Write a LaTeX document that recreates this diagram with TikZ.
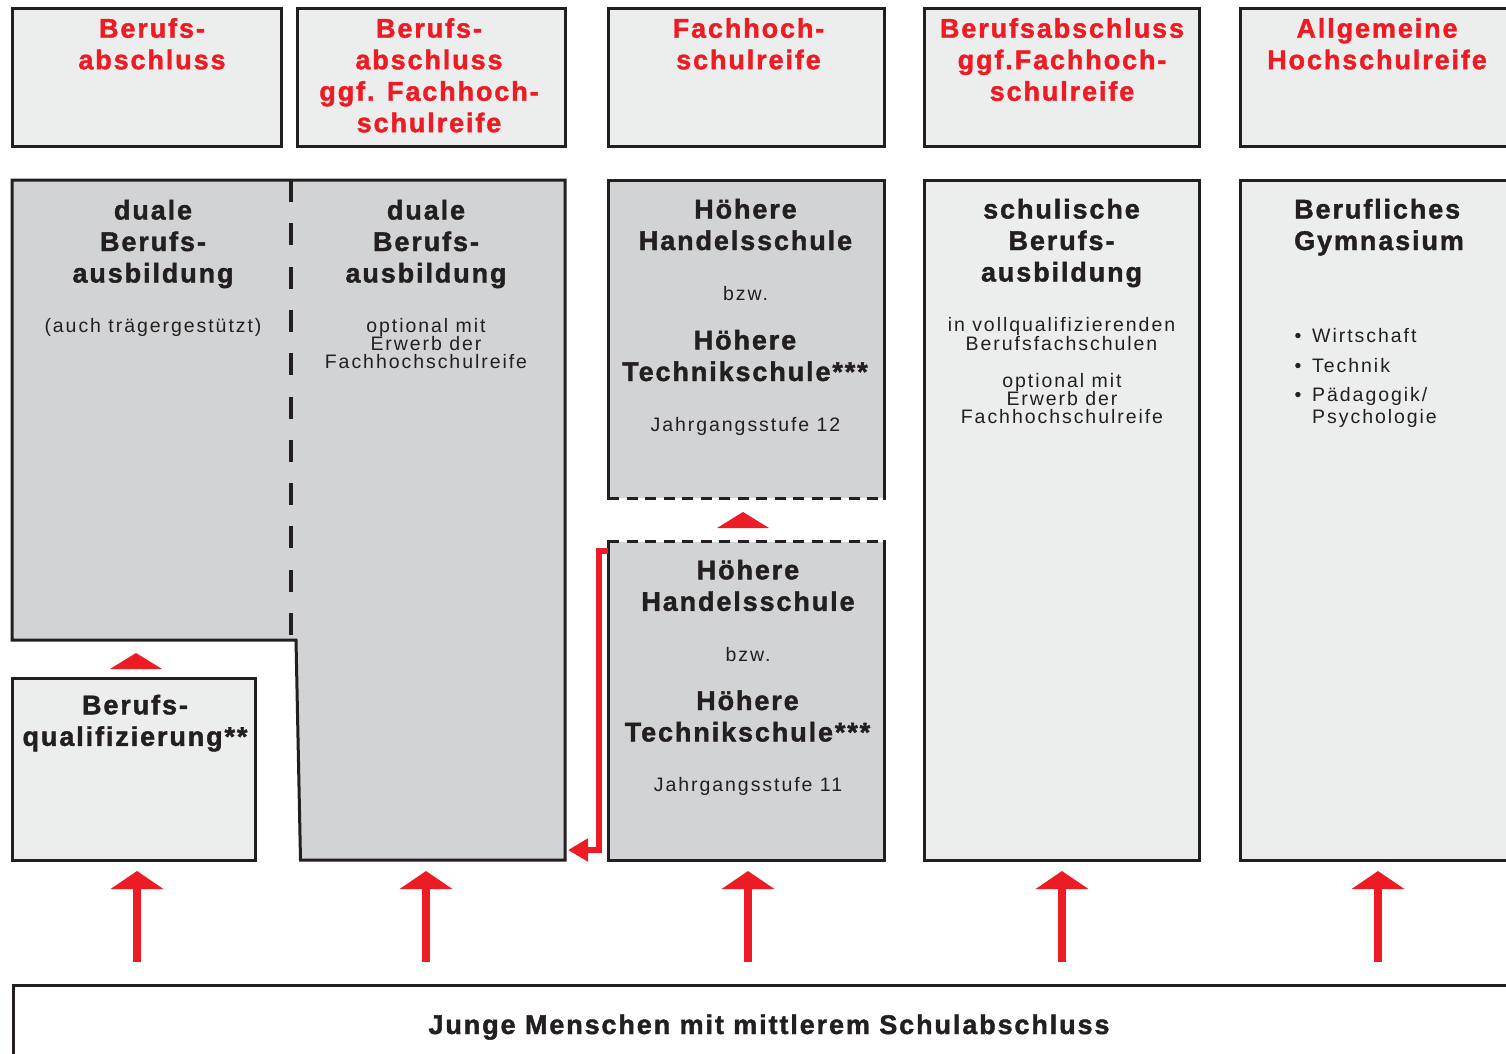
\documentclass[tikz,border=0pt]{standalone}
\usepackage{fontspec}
\setmainfont{Liberation Sans}
\newfontfamily\hdfont[LetterSpace=7,BoldFeatures={FakeBold=1.5}]{Liberation Sans}
\newfontfamily\smfont[LetterSpace=10]{Liberation Sans}
\usetikzlibrary{arrows.meta,calc}
\definecolor{rd}{HTML}{ED1C24}
\definecolor{grayfill}{HTML}{D1D3D4}
\definecolor{lightfill}{HTML}{ECEDED}
\definecolor{bord}{HTML}{231F20}
\begin{document}
\lineskiplimit=-50pt
\begin{tikzpicture}[x=1pt,y=-1pt,
  box/.style={draw=bord, line width=3pt, inner sep=0pt, outer sep=0pt, anchor=north west, rectangle},
  lbox/.style={box, fill=lightfill},
  gbox/.style={box, fill=grayfill},
  ghost/.style={box, draw=none, fill=none},
  hdblk/.style={font=\hdfont\bfseries\fontsize{27}{31.5}\selectfont, align=center, inner sep=0pt, anchor=base, text=bord},
  hdred/.style={hdblk, text=rd},
  smtxt/.style={font=\smfont\fontsize{19.5}{18.3}\selectfont, align=center, inner sep=0pt, anchor=base, text=bord},
  edge/.style={draw=bord, line width=3pt, line cap=rect},
  dashedge/.style={draw=bord, line width=3pt, dash pattern=on 11pt off 7.5pt},
  uparrow/.style={draw=rd, line width=8pt, -{Triangle[width=52pt,length=18pt]}, shorten >=11pt},
  rdbracket/.style={draw=rd, line width=6pt, line join=miter, -{Triangle[width=22pt,length=20pt]}},
]
\useasboundingbox (0,0) rectangle (1506,1053);
\clip (0,0) rectangle (1506,1053);

% (multi-line text nodes are placed at the baseline of their LAST line)

% ---- top row: qualifications ----
\node[lbox, minimum width=269pt, minimum height=138pt] (top1) at (12,8) {};
\node[lbox, minimum width=268pt, minimum height=138pt] (top2) at (297,8) {};
\node[lbox, minimum width=276pt, minimum height=138pt] (top3) at (608,8) {};
\node[lbox, minimum width=275pt, minimum height=138pt] (top4) at (924,8) {};
\node[lbox, minimum width=320pt, minimum height=138pt] (top5) at (1240,8) {};

\node[hdred] (h1) at (152,69.2) {Berufs-\\abschluss};
\node[hdred] (h2) at (429,132.2) {Berufs-\\abschluss\\ggf. Fachhoch-\\schulreife};
\node[hdred] (h3) at (748.5,69.2) {Fachhoch-\\schulreife};
\node[hdred] (h4) at (1062,100.7) {Berufsabschluss\\ggf.Fachhoch-\\schulreife};
\node[hdred] (h5) at (1377,69.2) {Allgemeine\\Hochschulreife};

% ---- duale Berufsausbildung (L-shape) ----
\node[ghost, minimum width=279pt, minimum height=460pt] (duaL) at (12,180) {};
\node[ghost, minimum width=273pt, minimum height=680pt] (duaR) at (292,180) {};
\coordinate (notchTop) at (296,640);
\coordinate (notchBot) at (300.5,860);
\path[fill=grayfill] (duaL.north west) -- (duaR.north east) -- (duaR.south east)
  -- (notchBot) -- (notchTop) -- (duaL.south west) -- cycle;
\draw[bord, line width=3pt, line join=miter] (duaL.north west) -- (duaR.north east) -- (duaR.south east)
  -- (notchBot) -- (notchTop) -- (duaL.south west) -- cycle;
\draw[bord, line width=4pt, dash pattern=on 22pt off 21.3pt] (duaL.north east) -- ([yshift=4pt]duaL.south east);

\node[hdblk] (d1) at (153,282.5) {duale\\Berufs-\\ausbildung};
\node[smtxt] (d1s) at (153,332.5) {(auch trägergestützt)};
\node[hdblk] (d2) at (426,282.5) {duale\\Berufs-\\ausbildung};
\node[smtxt] (d2s) at (426,368.6) {optional mit\\Erwerb der\\Fachhochschulreife};

% ---- Berufsqualifizierung ----
\node[lbox, minimum width=243pt, minimum height=181.5pt] (qual) at (12.5,678.5) {};
\node[hdblk] (q) at (135,745.8) {Berufs-\\qualifizierung**};
\fill[rd] (110,669) -- (162,669) -- (136,653) -- cycle;

% ---- Hoehere Handelsschule / Technikschule ----
\node[gbox, draw=none, minimum width=276pt, minimum height=318pt] (hs12) at (608,180) {};
\draw[edge] (hs12.south west) -- (hs12.north west) -- (hs12.north east) -- (hs12.south east);
\draw[dashedge] (hs12.south west) -- (hs12.south east);
\node[gbox, draw=none, minimum width=276pt, minimum height=318.5pt] (hs11) at (608,541.5) {};
\draw[edge] (hs11.north west) -- (hs11.south west) -- (hs11.south east) -- (hs11.north east);
\draw[dashedge] (hs11.north west) -- (hs11.north east);
\fill[rd] (717,528) -- (769,528) -- (743,512) -- cycle;

\node[hdblk] (a1) at (745.5,250) {Höhere\\Handelsschule};
\node[smtxt] (b1) at (745.5,300.5) {bzw.};
\node[hdblk] (c1) at (745,381) {Höhere\\Technikschule***};
\node[smtxt] (j1) at (745.5,431.5) {Jahrgangsstufe 12};

\node[hdblk] (a2) at (748,610.8) {Höhere\\Handelsschule};
\node[smtxt] (b2) at (748,661.7) {bzw.};
\node[hdblk] (c2) at (747.5,741.5) {Höhere\\Technikschule***};
\node[smtxt] (j2) at (748,791.7) {Jahrgangsstufe 11};

\coordinate (brTip) at (568,850);
\draw[rdbracket] ([yshift=-9.5pt]hs11.north west) -- ++(-9,0) |- (brTip);

% ---- schulische Berufsausbildung ----
\node[lbox, minimum width=275pt, minimum height=680pt] (schul) at (924,180) {};
\node[hdblk] (s1) at (1061.5,281.5) {schulische\\Berufs-\\ausbildung};
\node[smtxt] (s2) at (1061.5,350) {in vollqualifizierenden\\Berufsfachschulen};
\node[smtxt] (s3) at (1062,423.6) {optional mit\\Erwerb der\\Fachhochschulreife};

% ---- Berufliches Gymnasium ----
\node[lbox, minimum width=320pt, minimum height=680pt] (gym) at (1240,180) {};
\node[hdblk, align=left, anchor=base west] (g1) at (1294,250) {Berufliches\\Gymnasium};
\node[smtxt, anchor=base west] (bu1) at (1294.5,342.7) {•};
\node[smtxt, anchor=base west] (bu2) at (1294.5,372.7) {•};
\node[smtxt, anchor=base west] (bu3) at (1294.5,401.7) {•};
\node[smtxt, anchor=base west] (w1) at (1312,342.7) {Wirtschaft};
\node[smtxt, anchor=base west] (w2) at (1312,372.7) {Technik};
\node[smtxt, anchor=base west] (w3) at (1312,401.7) {Pädagogik/};
\node[smtxt, anchor=base west] (w4) at (1312,423) {Psychologie};

% ---- bottom: start ----
\node[lbox, fill=white, minimum width=1600pt, minimum height=200pt] (start) at (13,985) {};
\node[hdblk] (bt) at (769,1034) {Junge Menschen mit mittlerem Schulabschluss};

\coordinate (ar1) at (137,962);
\coordinate (ar2) at (426,962);
\coordinate (ar3) at (748,962);
\coordinate (ar4) at (1062,962);
\coordinate (ar5) at (1378,962);
\draw[uparrow] (ar1) -- (ar1 |- qual.south);
\draw[uparrow] (ar2) -- (ar2 |- duaR.south);
\draw[uparrow] (ar3) -- (ar3 |- hs11.south);
\draw[uparrow] (ar4) -- (ar4 |- schul.south);
\draw[uparrow] (ar5) -- (ar5 |- gym.south);
\end{tikzpicture}
\end{document}
